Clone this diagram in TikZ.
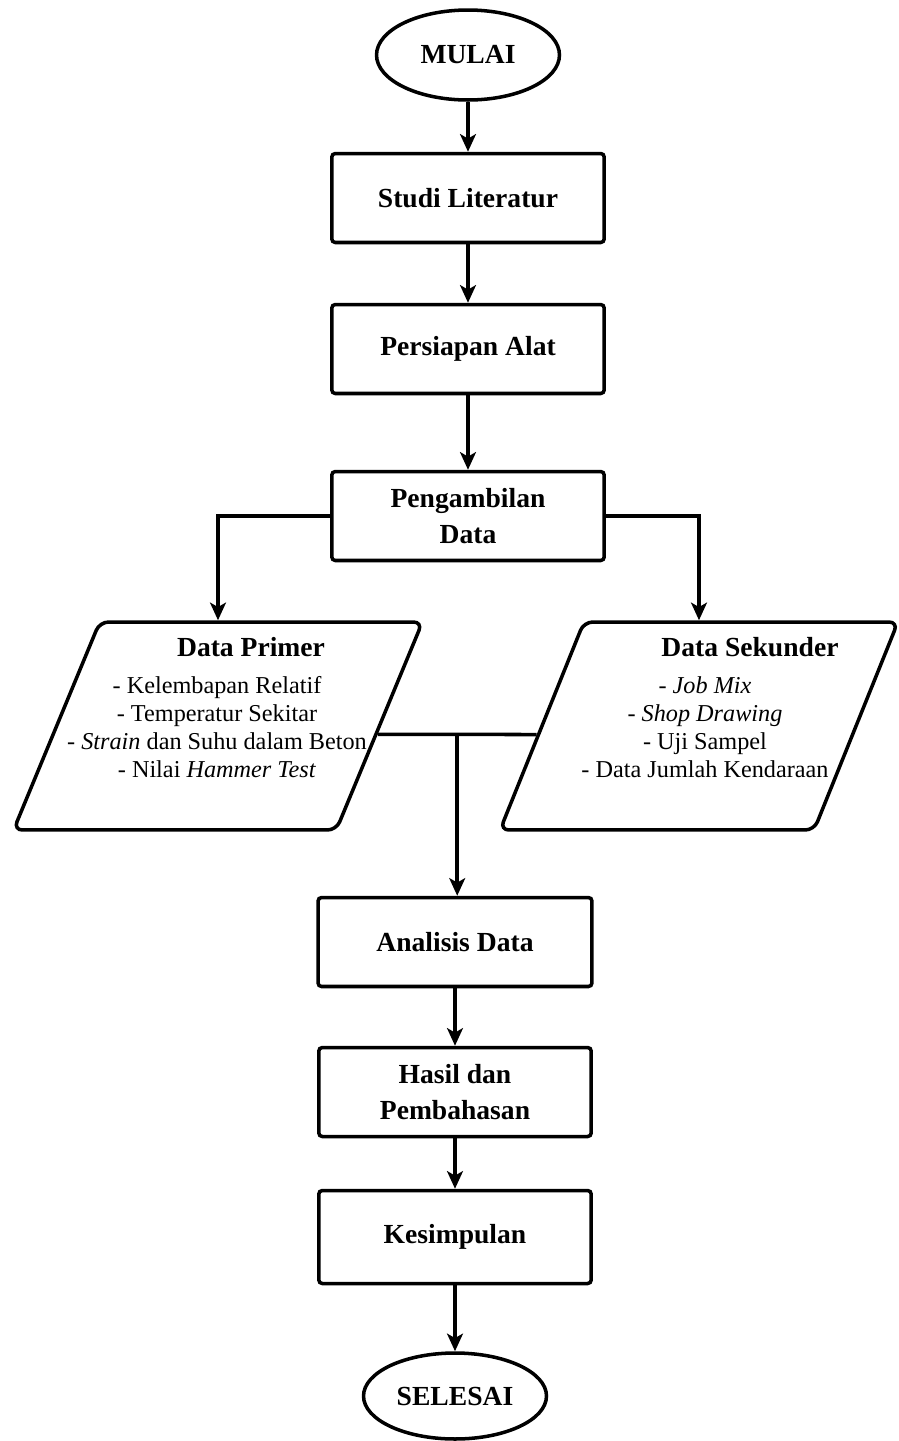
\documentclass[tikz,border=0pt]{standalone}
\usepackage{fontspec}
\setmainfont{Liberation Serif}
\usetikzlibrary{shapes.geometric,arrows.meta,positioning,calc}

\begin{document}
\begin{tikzpicture}[x=0.02cm, y=-0.02cm, line width=2pt,
	terminal/.style={ellipse, draw, minimum width=3.66cm, minimum height=1.8cm, font=\bfseries\fontsize{15.7}{19}\selectfont},
	proses/.style={rectangle, draw, rounded corners=2pt, minimum width=5.45cm, minimum height=1.78cm, align=center, font=\bfseries\fontsize{15.7}{20}\selectfont},
	dataio/.style={trapezium, trapezium left angle=70, trapezium right angle=110, trapezium stretches=true, draw, rounded corners=5pt, minimum width=8.18cm, minimum height=4.16cm},
	judul/.style={font=\bfseries\fontsize{15.7}{19}\selectfont},
	isi/.style={align=center, font=\fontsize{13.8}{15.9}\selectfont},
	panah/.style={-{Stealth[length=10pt,width=9pt,inset=2.5pt]}}
	]
	\useasboundingbox (0,0) rectangle (899,1441);
	
	\node[terminal] (mulai) at (468,55) {MULAI};
	\node[proses] (studi) at (468,198) {Studi Literatur};
	\node[proses] (alat) at (468,349) {Persiapan Alat};
	\node[proses] (ambil) at (468,516) {Pengambilan\\Data};
	
	% data primer dan sekunder
	\node[dataio] (prim) at (218,726) {};
	\node[judul] (primT) at (251,647) {Data Primer};
	\node[isi] (primB) at (217,727) {- Kelembapan Relatif\\- Temperatur Sekitar\\- \textit{Strain} dan Suhu dalam Beton\\- Nilai \textit{Hammer Test}};
	\node[dataio, minimum width=7.96cm] (sek) at (699,726) {};
	\node[judul] (sekT) at (750,647) {Data Sekunder};
	\node[isi] (sekB) at (705,727) {- \textit{Job Mix}\\- \textit{Shop Drawing}\\- Uji Sampel\\- Data Jumlah Kendaraan};
	
	\node[proses, minimum width=5.48cm] (analisis) at (455,942) {Analisis Data};
	\node[proses] (hasil) at (455,1092) {Hasil dan\\Pembahasan};
	\node[proses, minimum height=1.86cm] (simpul) at (455,1237) {Kesimpulan};
	\node[terminal, minimum height=1.72cm] (selesai) at (455,1396) {SELESAI};
	
	\draw[panah] (mulai) -- (studi);
	\draw[panah] (studi) -- (alat);
	\draw[panah] (alat) -- (ambil);
	\draw[panah] (ambil.west) -| (prim.north);
	\draw[panah] (ambil.east) -| (sek.north);
	\draw (prim.-3) -- (sek.183);
	\coordinate (gabung) at ($(prim.-3)!0.5!(sek.183)$);
	\draw[panah] (gabung) -- (gabung |- analisis.north);
	\draw[panah] (analisis) -- (hasil);
	\draw[panah] (hasil) -- (simpul);
	\draw[panah] (simpul) -- (selesai);
\end{tikzpicture}
\end{document}
